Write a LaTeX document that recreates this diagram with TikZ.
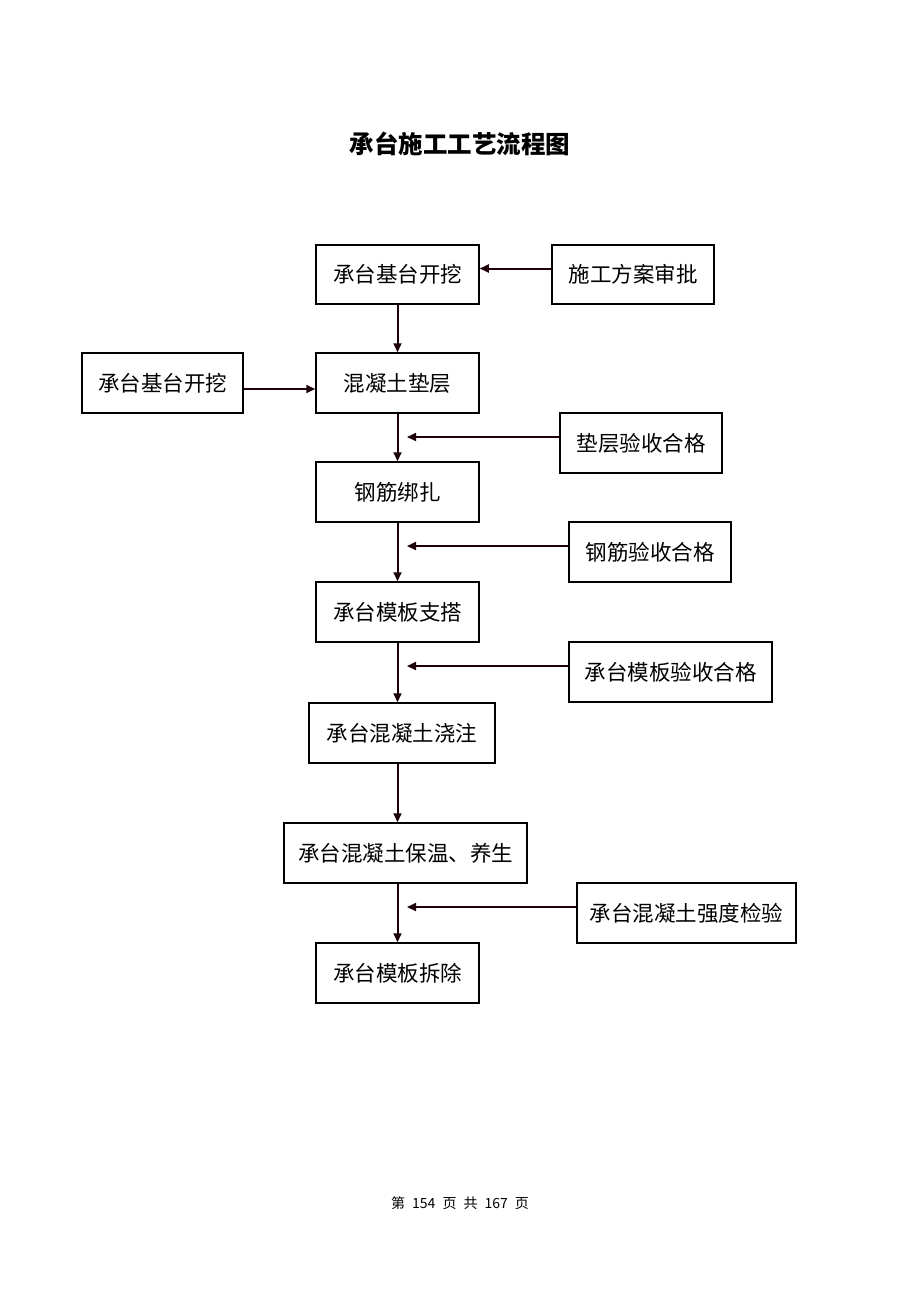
\documentclass[tikz,border=0pt]{standalone}
\usepackage{fontspec}
\setmainfont{Noto Sans CJK SC}
\usetikzlibrary{arrows.meta}
\begin{document}
\begin{tikzpicture}[x=1pt,y=-1pt,
  box/.style={draw=black,line width=1.5pt,rectangle,inner sep=0pt,
    minimum height=60pt,font=\fontsize{21.5}{26}\selectfont},
  arr/.style={draw=black!85!purple,line width=2pt,-{Triangle[length=9pt,width=8pt]}}]
\fill[white] (0,0) rectangle (920,1302);
\useasboundingbox (0,0) rectangle (920,1302);
\node[font=\fontsize{24.5}{29}\selectfont\bfseries] (title) at (460,144) {承台施工工艺流程图};
\node[box,minimum width=163pt,minimum height=59pt] (n1) at (397.5,274.5) {承台基台开挖};
\node[box,minimum width=162pt,minimum height=59pt] (n2) at (633,274.5) {施工方案审批};
\node[box,minimum width=163pt] (n3) at (397.5,383) {混凝土垫层};
\node[box,minimum width=161pt] (n4) at (162.5,383) {承台基台开挖};
\node[box,minimum width=162pt] (n5) at (641,443) {垫层验收合格};
\node[box,minimum width=163pt] (n6) at (397.5,492) {钢筋绑扎};
\node[box,minimum width=162pt] (n7) at (650,552) {钢筋验收合格};
\node[box,minimum width=163pt] (n8) at (397.5,612) {承台模板支搭};
\node[box,minimum width=203pt] (n9) at (670.5,672) {承台模板验收合格};
\node[box,minimum width=186pt] (n10) at (402,733) {承台混凝土浇注};
\node[box,minimum width=243pt] (n11) at (405.5,853) {承台混凝土保温、养生};
\node[box,minimum width=219pt] (n12) at (686.5,913) {承台混凝土强度检验};
\node[box,minimum width=163pt] (n13) at (397.5,973) {承台模板拆除};
\node[font=\fontsize{14}{17}\selectfont] (foot) at (460,1203) {第\hspace{7pt}154\hspace{7pt}页\hspace{7pt}共\hspace{7pt}167\hspace{7pt}页};
\coordinate (tip) at (407,0);
% main column
\draw[arr] (n1.south) -- (n3.north);
\draw[arr] (n3.south) -- (n6.north);
\draw[arr] (n6.south) -- (n8.north);
\draw[arr] (n8.south) -- (n8.south |- n10.north);
\draw[arr] (n8.south |- n10.south) -- (n8.south |- n11.north);
\draw[arr] (n8.south |- n11.south) -- (n13.north);
% side inputs
\draw[arr] ([yshift=6pt]n2.west) -- ([yshift=6pt]n1.east);
\draw[arr] ([yshift=-6pt]n4.east) -- ([yshift=-6pt]n3.west);
\draw[arr] ([yshift=6pt]n5.west) -- ([yshift=6pt]n5.west -| tip);
\draw[arr] ([yshift=6pt]n7.west) -- ([yshift=6pt]n7.west -| tip);
\draw[arr] ([yshift=6pt]n9.west) -- ([yshift=6pt]n9.west -| tip);
\draw[arr] ([yshift=6pt]n12.west) -- ([yshift=6pt]n12.west -| tip);
\end{tikzpicture}
\end{document}
